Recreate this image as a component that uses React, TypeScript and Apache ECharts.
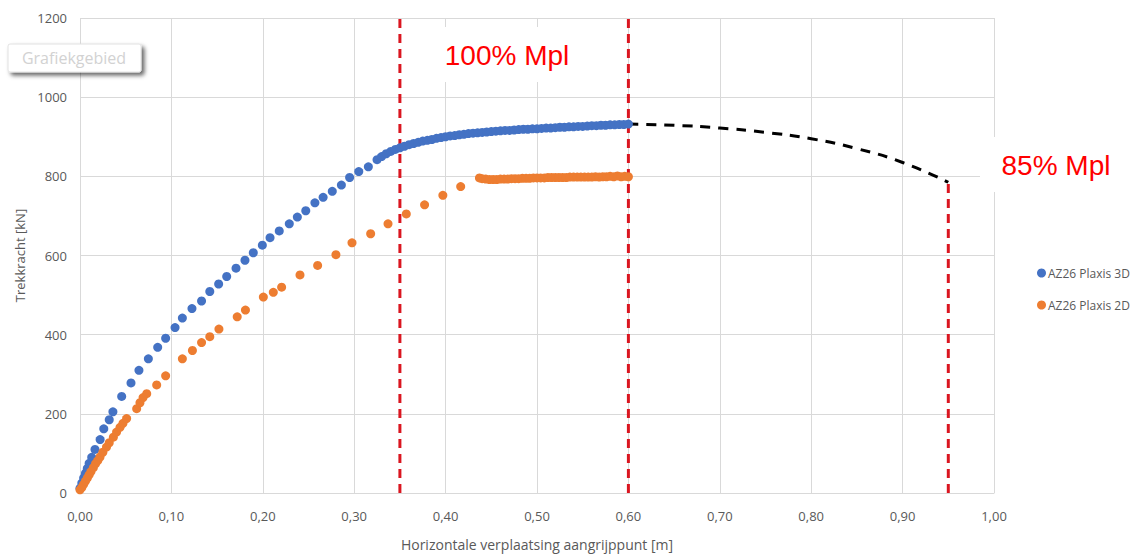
import React, { useEffect, useRef } from "react";
import * as echarts from "echarts";

// Plaxis 3D results: [horizontal displacement (m), pulling force (kN)]
const plaxis3D: [number, number][] = [
  [0.0, 12], [0.002, 25], [0.004, 38], [0.006, 50], [0.008, 62], [0.01, 75],
  [0.0128, 90], [0.0164, 110], [0.022, 135], [0.026, 162], [0.032, 185],
  [0.036, 205], [0.0456, 244], [0.0558, 278], [0.0645, 310], [0.0748, 339],
  [0.085, 368], [0.0937, 391], [0.104, 418], [0.112, 442], [0.1225, 466],
  [0.133, 485], [0.142, 509], [0.1517, 528], [0.1605, 547], [0.1707, 568],
  [0.1805, 588], [0.1896, 607], [0.1995, 626], [0.2079, 645], [0.218, 662],
  [0.229, 680], [0.2378, 697], [0.247, 713], [0.257, 733], [0.266, 747],
  [0.276, 762], [0.286, 778], [0.295, 797], [0.305, 812], [0.3155, 824],
  [0.325, 842], [0.33, 850], [0.335, 857], [0.34, 863], [0.345, 868],
  [0.35, 872], [0.355, 876], [0.36, 880], [0.365, 883], [0.37, 886],
  [0.375, 889], [0.38, 891], [0.385, 893], [0.39, 896], [0.395, 898],
  [0.4, 900], [0.405, 902], [0.41, 903], [0.415, 905], [0.42, 906],
  [0.425, 908], [0.43, 909], [0.435, 910], [0.44, 911], [0.445, 912],
  [0.45, 913], [0.455, 914], [0.46, 915], [0.465, 916], [0.47, 916],
  [0.475, 917], [0.48, 918], [0.485, 919], [0.49, 919], [0.495, 920],
  [0.5, 920], [0.505, 921], [0.51, 922], [0.515, 922], [0.52, 923],
  [0.525, 924], [0.53, 924], [0.535, 925], [0.54, 925], [0.545, 926],
  [0.55, 926], [0.555, 927], [0.56, 928], [0.565, 928], [0.57, 929],
  [0.575, 929], [0.58, 930], [0.585, 930], [0.59, 931], [0.595, 931],
  [0.6, 932],
];

// Plaxis 2D results: [horizontal displacement (m), pulling force (kN)]
const plaxis2D: [number, number][] = [
  [0.0, 8], [0.002, 14], [0.004, 22], [0.006, 30], [0.008, 38], [0.01, 46],
  [0.012, 54], [0.0146, 64], [0.017, 74], [0.0195, 82], [0.0219, 91],
  [0.025, 103], [0.029, 116], [0.032, 127], [0.0365, 141], [0.04, 154],
  [0.0438, 166], [0.047, 176], [0.051, 188], [0.062, 213], [0.0656, 228],
  [0.069, 241], [0.073, 251], [0.0839, 273], [0.0937, 296], [0.112, 339],
  [0.123, 360], [0.133, 380], [0.142, 395], [0.152, 414], [0.172, 445],
  [0.181, 462], [0.2006, 495], [0.2115, 507], [0.2206, 520], [0.2407, 551],
  [0.26, 575], [0.28, 602], [0.2976, 632], [0.318, 655], [0.337, 680],
  [0.357, 705], [0.377, 728], [0.397, 752], [0.4165, 774], [0.437, 796],
  [0.44, 794], [0.444, 793], [0.448, 792], [0.452, 792], [0.456, 792],
  [0.46, 793], [0.464, 793], [0.468, 793], [0.472, 794], [0.476, 794],
  [0.48, 794], [0.484, 795], [0.488, 795], [0.492, 795], [0.496, 796],
  [0.5, 796], [0.504, 796], [0.508, 796], [0.512, 797], [0.516, 797],
  [0.52, 797], [0.524, 797], [0.528, 797], [0.532, 797], [0.536, 798],
  [0.54, 798], [0.544, 798], [0.548, 798], [0.552, 798], [0.556, 798],
  [0.56, 798], [0.564, 799], [0.568, 798], [0.572, 799], [0.576, 799],
  [0.58, 800], [0.584, 799], [0.588, 801], [0.592, 799], [0.596, 800],
  [0.6, 799],
];

// Extrapolated 3D curve beyond 0.60 m down to 85% Mpl
const extrapolation: [number, number][] = [
  [0.6, 932], [0.65, 929], [0.7, 922], [0.75, 911], [0.8, 895],
  [0.85, 870], [0.9, 835], [0.95, 785],
];

// Vertical reference lines: displacement and height of each marker line
const mplLineX = [0.35, 0.6, 0.95];
const mplLineTop = [1200, 1200, 785];

const mplLabels = ["100% Mpl", "85% Mpl"];
const seriesNames = ["AZ26 Plaxis 3D", "AZ26 Plaxis 2D"];

const BLUE = "#4472C4";
const ORANGE = "#ED7D31";
const RED = "#DA1620";
const GRID = "#D9D9D9";
const TEXT = "#595959";
const FONT = "'Open Sans', 'Liberation Sans', sans-serif";

export default function App() {
  const ref = useRef<HTMLDivElement>(null);

  useEffect(() => {
    if (!ref.current) return;
    const chart = echarts.init(ref.current, undefined, { renderer: "svg" });

    const redLines = mplLineX.map((x, i) => ({
      type: "line",
      data: [
        [x, 0],
        [x, mplLineTop[i]],
      ],
      symbol: "none",
      silent: true,
      z: 4,
      lineStyle: { color: RED, width: 3, type: [9, 6] },
    }));

    chart.setOption({
      animation: false,
      backgroundColor: "#FFFFFF",
      grid: { left: 80, top: 18, width: 914, height: 480 },
      xAxis: {
        type: "value",
        min: 0,
        max: 1,
        interval: 0.1,
        name: "Horizontale verplaatsing aangrijppunt [m]",
        nameLocation: "middle",
        nameGap: 44,
        nameTextStyle: { color: TEXT, fontSize: 14, fontFamily: FONT },
        axisLine: { show: true, lineStyle: { color: GRID, width: 1 } },
        axisTick: { show: false },
        axisLabel: {
          color: TEXT,
          fontSize: 13,
          fontFamily: FONT,
          margin: 16,
          formatter: (v: number) => v.toFixed(2).replace(".", ","),
        },
        splitLine: { show: true, lineStyle: { color: GRID, width: 1 } },
      },
      yAxis: {
        type: "value",
        min: 0,
        max: 1200,
        interval: 200,
        name: "Trekkracht [kN]",
        nameLocation: "middle",
        nameGap: 52,
        nameRotate: 90,
        nameTextStyle: { color: TEXT, fontSize: 13, fontFamily: FONT },
        axisLine: { show: false },
        axisTick: { show: false },
        axisLabel: {
          color: TEXT,
          fontSize: 13,
          fontFamily: FONT,
          margin: 13,
          formatter: (v: number) => String(Math.round(v)),
        },
        splitLine: { show: true, lineStyle: { color: GRID, width: 1 } },
      },
      legend: {
        data: seriesNames,
        orient: "vertical",
        left: 1032,
        top: 262,
        itemGap: 20,
        itemWidth: 9,
        itemHeight: 9,
        icon: "circle",
        textStyle: { color: TEXT, fontSize: 12, fontFamily: FONT, padding: [0, 0, 0, -3] },
      },
      graphic: [
        // white label backgrounds
        {
          type: "rect",
          z: 1,
          shape: { x: 405, y: 27, width: 217, height: 55 },
          style: { fill: "#FFFFFF" },
        },
        {
          type: "rect",
          z: 1,
          shape: { x: 980, y: 137, width: 164, height: 55 },
          style: { fill: "#FFFFFF" },
        },
        {
          type: "text",
          z: 10,
          x: 507,
          y: 55,
          style: {
            text: mplLabels[0],
            fill: "#FF0000",
            font: "28px 'Liberation Sans', Arial, sans-serif",
            textAlign: "center",
            textVerticalAlign: "middle",
          },
        },
        {
          type: "text",
          z: 10,
          x: 1056,
          y: 165,
          style: {
            text: mplLabels[1],
            fill: "#FF0000",
            font: "28px 'Liberation Sans', Arial, sans-serif",
            textAlign: "center",
            textVerticalAlign: "middle",
          },
        },
        // chart-area hover hint
        {
          type: "rect",
          z: 20,
          shape: { x: 8, y: 44, width: 133, height: 28, r: 2 },
          style: {
            fill: "#FFFFFF",
            stroke: "#E2E2E2",
            lineWidth: 1,
            shadowBlur: 4,
            shadowOffsetX: 3,
            shadowOffsetY: 3,
            shadowColor: "rgba(0,0,0,0.6)",
          },
        },
        {
          type: "text",
          z: 21,
          x: 74,
          y: 58,
          style: {
            text: "Grafiekgebied",
            fill: "#D2D2D2",
            font: `16px ${FONT}`,
            textAlign: "center",
            textVerticalAlign: "middle",
          },
        },
      ],
      series: [
        ...redLines,
        {
          type: "line",
          data: extrapolation,
          symbol: "none",
          smooth: true,
          silent: true,
          z: 4,
          lineStyle: { color: "#000000", width: 3, type: [10, 8] },
        },
        {
          name: seriesNames[0],
          type: "scatter",
          data: plaxis3D,
          symbol: "circle",
          symbolSize: 9,
          z: 5,
          itemStyle: { color: BLUE, opacity: 1 },
        },
        {
          name: seriesNames[1],
          type: "scatter",
          data: plaxis2D,
          symbol: "circle",
          symbolSize: 9,
          z: 5,
          itemStyle: { color: ORANGE, opacity: 1 },
        },
      ],
    });

    return () => chart.dispose();
  }, []);

  return (
    <div
      ref={ref}
      style={{ position: "absolute", left: 0, top: 0, width: 1144, height: 556 }}
    />
  );
}
